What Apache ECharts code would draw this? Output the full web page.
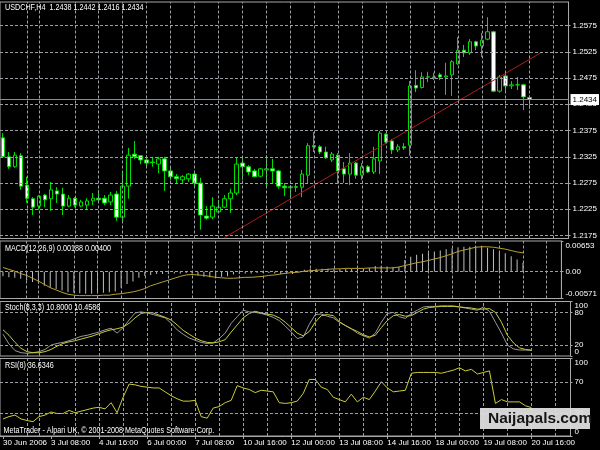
<!DOCTYPE html>
<html><head><meta charset="utf-8">
<script src="https://cdn.jsdelivr.net/npm/echarts@6/dist/echarts.min.js"></script>
<style>html,body{margin:0;padding:0;background:#000;overflow:hidden}#c{width:600px;height:450px}</style>
</head><body><div id="c"></div>
<script>
const symbolName = 'USDCHF,H4';
const days = ['30 Jun','3 Jul','4 Jul','5 Jul','6 Jul','7 Jul','10 Jul','11 Jul','12 Jul','13 Jul','14 Jul','17 Jul','18 Jul','19 Jul','20 Jul','21 Jul'];
const hours = ['00:00','04:00','08:00','12:00','16:00','20:00'];
const tickLabels = ['30 Jun 2006','3 Jul 08:00','4 Jul 16:00','6 Jul 00:00','7 Jul 08:00','10 Jul 16:00','12 Jul 00:00','13 Jul 08:00','14 Jul 16:00','18 Jul 00:00','19 Jul 08:00','20 Jul 16:00'];
// [open, close, low, high]
const candles = [
 [1.2361,1.2325,1.2323,1.2370],[1.2325,1.2306,1.2302,1.2334],[1.2306,1.2328,1.2304,1.2334],[1.2327,1.2269,1.2262,1.2332],[1.2271,1.2246,1.2237,1.2287],
 [1.2245,1.2229,1.2214,1.2248],[1.2231,1.2250,1.2224,1.2252],[1.2252,1.2243,1.2229,1.2254],[1.2245,1.2262,1.2222,1.2277],[1.2260,1.2254,1.2237,1.2267],
 [1.2254,1.2231,1.2214,1.2266],[1.2231,1.2246,1.2229,1.2252],[1.2246,1.2233,1.2229,1.2248],[1.2231,1.2239,1.2229,1.2243],[1.2233,1.2241,1.2224,1.2246],
 [1.2241,1.2246,1.2233,1.2256],[1.2246,1.2243,1.2237,1.2262],[1.2246,1.2237,1.2233,1.2252],[1.2239,1.2252,1.2233,1.2258],[1.2254,1.2210,1.2203,1.2260],
 [1.2210,1.2269,1.2199,1.2294],[1.2269,1.2328,1.2245,1.2342],[1.2330,1.2325,1.2321,1.2355],[1.2327,1.2319,1.2311,1.2328],[1.2319,1.2313,1.2306,1.2328],
 [1.2315,1.2314,1.2306,1.2325],[1.2311,1.2321,1.2294,1.2325],[1.2321,1.2298,1.2260,1.2325],[1.2298,1.2287,1.2281,1.2306],[1.2287,1.2283,1.2273,1.2292],
 [1.2281,1.2287,1.2275,1.2290],[1.2283,1.2292,1.2277,1.2294],[1.2292,1.2275,1.2266,1.2294],[1.2275,1.2214,1.2186,1.2285],[1.2212,1.2208,1.2205,1.2231],
 [1.2210,1.2231,1.2206,1.2248],[1.2220,1.2229,1.2218,1.2243],[1.2229,1.2245,1.2227,1.2252],[1.2245,1.2256,1.2218,1.2264],[1.2256,1.2311,1.2252,1.2323],
 [1.2313,1.2306,1.2281,1.2325],[1.2306,1.2296,1.2290,1.2309],[1.2298,1.2287,1.2286,1.2302],[1.2288,1.2302,1.2286,1.2304],[1.2300,1.2302,1.2265,1.2328],
 [1.2302,1.2298,1.2275,1.2321],[1.2298,1.2269,1.2264,1.2300],[1.2269,1.2266,1.2250,1.2275],[1.2266,1.2268,1.2248,1.2271],[1.2268,1.2267,1.2258,1.2275],
 [1.2267,1.2292,1.2248,1.2300],[1.2290,1.2346,1.2275,1.2351],[1.2346,1.2344,1.2334,1.2372],[1.2344,1.2334,1.2330,1.2347],[1.2334,1.2323,1.2321,1.2344],
 [1.2319,1.2330,1.2315,1.2334],[1.2328,1.2298,1.2275,1.2332],[1.2302,1.2292,1.2275,1.2315],[1.2292,1.2313,1.2271,1.2332],[1.2313,1.2290,1.2283,1.2315],
 [1.2290,1.2306,1.2281,1.2313],[1.2306,1.2296,1.2294,1.2309],[1.2296,1.2321,1.2292,1.2344],[1.2317,1.2370,1.2292,1.2374],[1.2368,1.2353,1.2349,1.2370],
 [1.2355,1.2338,1.2330,1.2359],[1.2338,1.2344,1.2334,1.2349],[1.2344,1.2342,1.2338,1.2351],[1.2347,1.2460,1.2327,1.2469],[1.2461,1.2456,1.2448,1.2490],
 [1.2457,1.2477,1.2455,1.2486],[1.2477,1.2477,1.2467,1.2487],[1.2477,1.2476,1.2471,1.2485],[1.2481,1.2477,1.2471,1.2485],[1.2477,1.2479,1.2443,1.2504],
 [1.2481,1.2506,1.2441,1.2509],[1.2502,1.2528,1.2500,1.2553],[1.2528,1.2523,1.2515,1.2538],[1.2523,1.2544,1.2519,1.2549],[1.2544,1.2536,1.2528,1.2546],
 [1.2536,1.2547,1.2515,1.2561],[1.2549,1.2563,1.2547,1.2591],[1.2563,1.2450,1.2448,1.2565],[1.2450,1.2477,1.2447,1.2481],[1.2479,1.2460,1.2448,1.2483],
 [1.2460,1.2462,1.2454,1.2469],[1.2462,1.2462,1.2452,1.2477],[1.2462,1.2439,1.2414,1.2464],[1.2438,1.2434,1.2416,1.2442]
];
const macdMain = [
 -0.0010,-0.0012,-0.0013,-0.0015,-0.0019,-0.0022,-0.0025,-0.0030,-0.0034,-0.0037,
 -0.0040,-0.0043,-0.0045,-0.0046,-0.0047,-0.0047,-0.0046,-0.0045,-0.0044,-0.0042,
 -0.0034,-0.0026,-0.0021,-0.0013,-0.0009,-0.0007,-0.0005,-0.0005,-0.0005,-0.0004,
 -0.0004,-0.0003,-0.0004,-0.0008,-0.0011,-0.0012,-0.0012,-0.0011,-0.0010,-0.0006,
 -0.0005,-0.0004,-0.0004,-0.0003,-0.0003,-0.0003,-0.0004,-0.0005,-0.0005,-0.0005,
 -0.0002,0.0004,0.0006,0.0006,0.0006,0.0006,0.0005,0.0005,0.0006,0.0006,
 0.0006,0.0006,0.0008,0.0012,0.0012,0.0011,0.0010,0.0010,0.0025,0.0032,
 0.0036,0.0038,0.0040,0.0043,0.0045,0.0048,0.0050,0.0052,0.0053,0.0053,
 0.0054,0.0055,0.0051,0.0048,0.0043,0.0039,0.0033,0.0026,0.00188
];
const macdSignal = [
 0.0009,0.0005,0.0001,-0.0004,-0.0008,-0.0014,-0.0020,-0.0027,-0.0034,-0.0039,
 -0.0044,-0.0048,-0.0050,-0.0051,-0.0051,-0.0051,-0.0051,-0.0050,-0.0050,-0.0048,
 -0.0047,-0.0045,-0.0043,-0.0040,-0.0036,-0.0030,-0.0026,-0.0022,-0.0018,-0.0014,
 -0.0010,-0.0007,-0.0006,-0.0007,-0.0008,-0.0010,-0.0012,-0.0013,-0.0014,-0.0014,
 -0.0013,-0.0012,-0.0012,-0.0011,-0.0010,-0.0008,-0.0007,-0.0005,-0.0003,-0.0002,
 -0.0001,0.0001,0.0002,0.0003,0.0004,0.0005,0.0006,0.0006,0.0007,0.0007,
 0.0007,0.0007,0.0008,0.0008,0.0008,0.0008,0.0008,0.0010,0.0013,0.0016,
 0.0019,0.0021,0.0024,0.0027,0.0030,0.0034,0.0038,0.0043,0.0046,0.0049,
 0.0052,0.0053,0.0053,0.0052,0.0050,0.0048,0.0045,0.0042,0.00400
];
const stochMain = [
 40,22,10,6,5,6,8,12,20,23,
 25,28,32,36,38,41,44,48,51,42,
 52,66,79,81,79,76,73,70,60,48,
 40,33,29,25,23,24,32,42,60,72,
 84,81,80,78,75,71,65,55,44,32,
 35,58,76,77,73,70,62,56,50,42,
 37,33,42,62,78,80,72,69,78,84,
 90,91,91,92,92,92,90,88,86,84,
 90,82,62,42,20,13,11,11,10.8
];
const stochSignal = [
 48,38,25,14,8,6,6,8,12,18,
 23,26,28,31,34,37,41,45,48,50,
 53,60,70,78,80,79,75,71,66,57,
 47,40,33,28,25,24,26,30,44,57,
 70,78,82,79,77,75,70,62,52,42,
 37,45,62,74,76,74,63,56,50,45,
 39,35,38,52,65,74,76,73,74,80,
 86,89,90,91,91,91,90,89,88,86,
 86,87,80,62,38,24,15,12,10.4586
];
const rsi = [
 22,25,27,22,20,18.5,25,27,31,29,
 29,33,30,32,34,36,37,35,43,30,
 50,67,66,64,63,62,62,57,52,48,
 45,45,46,25,23,36,38,43,46,65,
 62,60,56,59,58,57,43,42,43,45,
 55,73,73,63,60,50,47,44,54,44,
 50,47,58,70,62,57,58,59,81,82,
 82,82,82,81,83,85,88,84,86,80,
 82,84,42,47,44,44,44,39,36.6346
];
const priceTicks = [1.2175,1.2225,1.2275,1.2325,1.2375,1.2425,1.2475,1.2525,1.2575];
const macdTicks = [-0.00571,0,0.00653];
const stochLevels = [20,80];
const rsiLevels = [30,70];
const rangeTicks = [0,100];
const gridBars = [4,6,12,16,20,24,28,32,36,40,44,48,52,56,60,64,68,72,76,80,84,88,92];
const trendBars = [37,90];
const trendPrices = [1.2171,1.2524];
const bidPrice = 1.2434;

const FONT = '"Liberation Sans Narrow","Liberation Sans",Arial,sans-serif';
const GRIDC = '#9aa0a6';
const FRAME = '#a8a8a8';

const categories = [];
days.forEach(d => hours.forEach(h => categories.push(d + ' ' + h)));
categories.length = 95;

const trendData = categories.map(() => null);
trendBars.forEach((b, i) => { trendData[b] = trendPrices[i]; });

const panels = [
  {top: 2, height: 236.5},
  {top: 241, height: 57.5},
  {top: 301.5, height: 54.5},
  {top: 358.5, height: 77.5}
];
const grid = panels.map(p => ({left: 0, width: 570.5, top: p.top, height: p.height, show: true,
  borderColor: FRAME, borderWidth: 1, backgroundColor: 'transparent'}));

const isLabelBar = i => i % 8 === 0 && i <= 88;
const xAxis = panels.map((p, k) => ({
  type: 'category', gridIndex: k, data: categories, boundaryGap: true,
  axisLine: {show: k === 3, lineStyle: {color: FRAME}},
  axisTick: {show: k === 3, alignWithLabel: true, interval: isLabelBar, length: 3, lineStyle: {color: FRAME}},
  axisLabel: {show: k === 3, interval: isLabelBar, align: 'left', color: '#fff', fontSize: 8, fontFamily: FONT, margin: 3,
    formatter: (v, i) => tickLabels[i / 8] || ''},
  splitLine: {show: false}
}));

function yAx(k, min, max, ticks, fmt, inset, showLine) {
  return {
    type: 'value', gridIndex: k, position: 'right', min: min, max: max, scale: false,
    splitLine: {show: false},
    axisLine: {show: showLine, lineStyle: {color: FRAME}},
    axisTick: {show: true, customValues: ticks, length: 2, lineStyle: {color: FRAME}},
    axisLabel: {
      customValues: ticks, showMinLabel: true, showMaxLabel: true, hideOverlap: false,
      color: '#fff', fontSize: 8, fontFamily: FONT, margin: 4,
      formatter: v => {
        const t = fmt(v);
        if (inset && v === max) return '{t|' + t + '}';
        if (inset && v === min) return '{b|' + t + '}';
        return t;
      },
      rich: {
        t: {padding: [9, 0, 0, 0], color: '#fff', fontSize: 8, fontFamily: FONT},
        b: {padding: [0, 0, 9, 0], color: '#fff', fontSize: 8, fontFamily: FONT}
      }
    }
  };
}
const yAxis = [
  yAx(0, 1.21693, 1.26198, priceTicks, v => v.toFixed(4), false, true),
  yAx(1, -0.00571, 0.00653, macdTicks, v => v === 0 ? '0.00' : v.toFixed(5), true, true),
  yAx(2, 0, 100, stochLevels, v => String(v), false, true),
  yAx(3, 0, 100, rsiLevels, v => String(v), false, true),
  yAx(2, 0, 100, rangeTicks, v => String(v), true, false),
  yAx(3, 0, 100, rangeTicks, v => String(v), true, false)
];

function gridSeries(k, levels) {
  const dash = {color: GRIDC, type: [3, 2], width: 1};
  const data = levels.map(v => ({yAxis: v, lineStyle: dash}))
    .concat(gridBars.map(b => ({xAxis: b, lineStyle: dash})));
  return {
    type: 'line', xAxisIndex: k, yAxisIndex: k, data: [], silent: true, z: 1,
    markLine: {silent: true, symbol: 'none', precision: 8, animation: false, label: {show: false}, data: data}
  };
}

const series = [
  gridSeries(0, priceTicks),
  gridSeries(1, [0]),
  gridSeries(2, stochLevels),
  gridSeries(3, rsiLevels),
  {
    type: 'line', xAxisIndex: 0, yAxisIndex: 0, data: [], silent: true, z: 2,
    markLine: {silent: true, symbol: 'none', precision: 8, animation: false,
      data: [{yAxis: bidPrice, lineStyle: {color: '#8c8c8c', type: 'solid', width: 1},
        label: {show: true, position: 'end', formatter: bidPrice.toFixed(4), color: '#000', backgroundColor: '#fff',
          fontSize: 8, fontFamily: FONT, padding: [2, 2, 1, 2], distance: 2}}]}
  },
  {
    type: 'candlestick', xAxisIndex: 0, yAxisIndex: 0, data: candles, barWidth: 4, z: 3,
    itemStyle: {color: '#000', color0: '#ffffff', borderColor: '#00dd00', borderColor0: '#00dd00', borderWidth: 1},
    silent: true
  },
  {
    type: 'line', xAxisIndex: 0, yAxisIndex: 0, data: trendData, connectNulls: true, symbol: 'none', z: 4,
    lineStyle: {color: '#b01c1c', width: 1}, silent: true
  },
  {
    type: 'bar', xAxisIndex: 1, yAxisIndex: 1, data: macdMain, barWidth: 1, z: 2,
    itemStyle: {color: '#c0c0c0'}, silent: true
  },
  {
    type: 'line', xAxisIndex: 1, yAxisIndex: 1, data: macdSignal, symbol: 'none', z: 3,
    lineStyle: {color: '#b8a032', width: 1}, silent: true
  },
  {
    type: 'line', xAxisIndex: 2, yAxisIndex: 2, data: stochMain, symbol: 'none', z: 3,
    lineStyle: {color: '#9a9a9a', width: 1}, silent: true
  },
  {
    type: 'line', xAxisIndex: 2, yAxisIndex: 2, data: stochSignal, symbol: 'none', z: 4,
    lineStyle: {color: '#cccc3a', width: 1}, silent: true
  },
  {
    type: 'line', xAxisIndex: 3, yAxisIndex: 3, data: rsi, symbol: 'none', z: 3,
    lineStyle: {color: '#cccc3a', width: 1}, silent: true
  }
];

const last = candles[candles.length - 1];
const n = macdMain.length - 1;
const txt = (x, y, s) => ({type: 'text', x: x, y: y, scaleX: 0.8, z: 10, silent: true,
  style: {text: s, fill: '#fff', font: '9px ' + FONT, verticalAlign: 'middle', align: 'left'}});

const graphic = [
  txt(5, 7.5, symbolName + '  ' + last[0].toFixed(4) + ' ' + last[3].toFixed(4) + ' ' + last[2].toFixed(4) + ' ' + last[1].toFixed(4)),
  txt(5, 248.5, 'MACD(12,26,9) ' + macdMain[n].toFixed(5) + ' ' + macdSignal[n].toFixed(5)),
  txt(5, 308, 'Stoch(8,3,3) ' + stochMain[n].toFixed(4) + ' ' + stochSignal[n].toFixed(4)),
  txt(5, 366, 'RSI(8) ' + rsi[n].toFixed(4)),
  txt(3.5, 431, 'MetaTrader - Alpari UK, \u00a9 2001-2008 MetaQuotes Software Corp.'),
  {type: 'rect', z: 20, silent: true, shape: {x: 480, y: 408, width: 110, height: 21},
    style: {fill: 'rgba(222,222,222,0.95)'}},
  {type: 'text', z: 21, silent: true, x: 488, y: 419,
    style: {text: 'Naijapals.com', fill: '#151515', font: 'bold 15.5px "Liberation Sans",Arial,sans-serif', verticalAlign: 'middle', align: 'left'}}
];

const chart = echarts.init(document.getElementById('c'), null, {renderer: 'canvas'});
chart.setOption({
  backgroundColor: '#000',
  animation: false,
  grid: grid, xAxis: xAxis, yAxis: yAxis, series: series, graphic: graphic
});
</script>
</body></html>
